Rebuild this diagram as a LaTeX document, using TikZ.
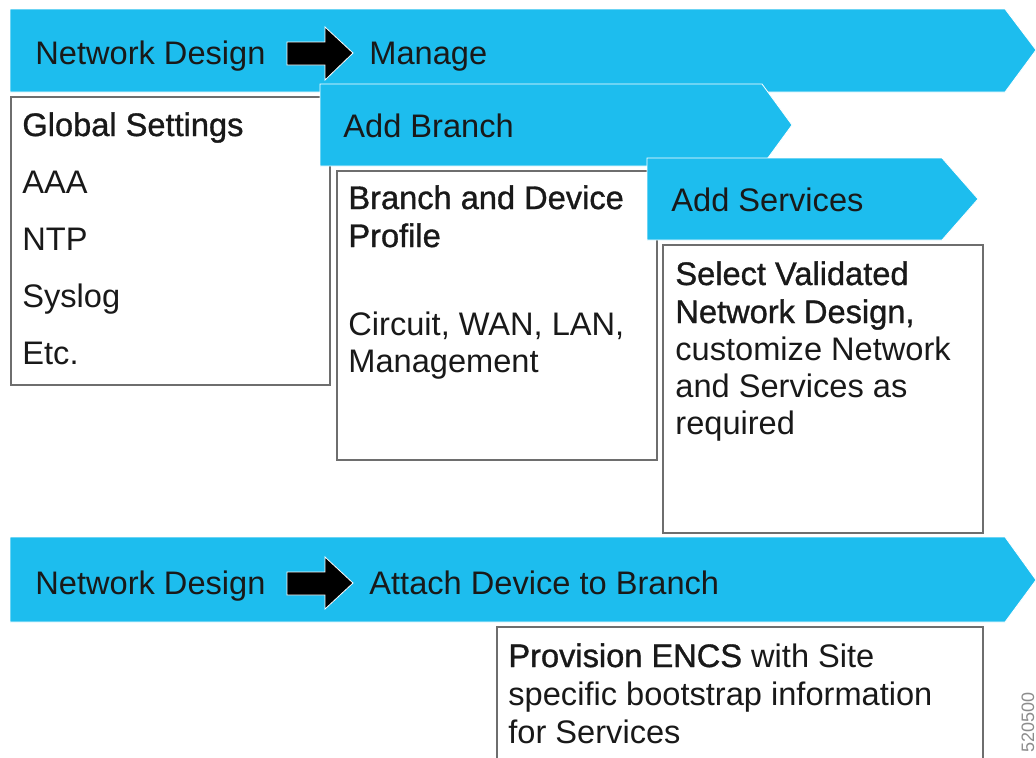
\documentclass[tikz,border=0pt]{standalone}
\usepackage{fontspec}
\setmainfont{Liberation Sans}
\newfontfamily\medfont[FakeBold=1]{Liberation Sans}
\definecolor{ciscoblue}{HTML}{1DBDEE}
\definecolor{boxgray}{HTML}{6E6E6E}
\tikzset{
  banner/.style={fill=ciscoblue, draw=white, line width=0.4pt},
  infobox/.style={draw=boxgray, line width=0.8pt, fill=white},
  blockarrow/.style={fill=black, draw=white, line width=0.4pt},
  txt/.style={anchor=base west, inner sep=0pt, text=black!90,
    font=\fontsize{16.3}{19.5}\selectfont}
}

\begin{document}
\begin{tikzpicture}[x=0.5pt, y=-0.5pt]
\useasboundingbox (0,0) rectangle (1036,757);
% Network Design -> Manage
\path[banner] (10,9) -- (1005,9) -- (1036,50) -- (1005,92) -- (10,92) -- cycle;
\node[txt] (nd1) at (35,64) {Network Design};
\path[blockarrow] (287,42) -- (325,42) -- (325,27) -- (353,53) -- (325,80) -- (325,65) -- (287,65) -- cycle;
\node[txt] (manage) at (369,64) {Manage};
% global settings
\draw[infobox] (11,97) rectangle (330,385);
\node[txt] (glob) at (22,136) {\medfont Global Settings};
\foreach \t [count=\i] in {AAA,NTP,Syslog,Etc.}
	\node[txt] (glob\i) at (22,136+57*\i) {\t};
% add branch
\path[banner] (320,84) -- (762,84) -- (792,125) -- (762,166) -- (320,166) -- cycle;
\node[txt] (addbr) at (343,137) {Add Branch};
\draw[infobox] (337,171) rectangle (657,460);
\node[txt] (prof1) at (348,209) {\medfont Branch and Device};
\node[txt] (prof2) at (348,247) {\medfont Profile};
\node[txt] (circ1) at (348,335) {Circuit, WAN, LAN,};
\node[txt] (circ2) at (348,372) {Management};
% add services
\path[banner] (647,158) -- (942,158) -- (978,199) -- (942,240) -- (647,240) -- cycle;
\node[txt] (addsv) at (671,211) {Add Services};
\draw[infobox] (663,245) rectangle (983,533);
\node[txt] (sel1) at (675,285) {\medfont Select Validated};
\node[txt] (sel2) at (675,323) {\medfont Network Design,};
\foreach \t [count=\i] in {customize Network,and Services as,required}
	\node[txt] (cust\i) at (675,323+37*\i) {\t};
% Network Design -> Attach Device to Branch
\path[banner] (10,537) -- (1005,537) -- (1036,580) -- (1005,622) -- (10,622) -- cycle;
\node[txt] (nd2) at (35,594) {Network Design};
\path[blockarrow] (287,572) -- (325,572) -- (325,557) -- (353,583) -- (325,609) -- (325,595) -- (287,595) -- cycle;
\node[txt] (attach) at (369,594) {Attach Device to Branch};
% provision
\draw[infobox] (497,627) rectangle (983,775);
\node[txt] (prov1) at (508,667) {{\medfont Provision ENCS} with Site};
\node[txt] (prov2) at (508,705) {specific bootstrap information};
\node[txt] (prov3) at (508,743) {for Services};
% figure number
\node[rotate=90, anchor=east, inner sep=0pt, text=black!45, font=\fontsize{9}{10}\selectfont] (fignum) at (1028,692) {520500};
\end{tikzpicture}
\end{document}
